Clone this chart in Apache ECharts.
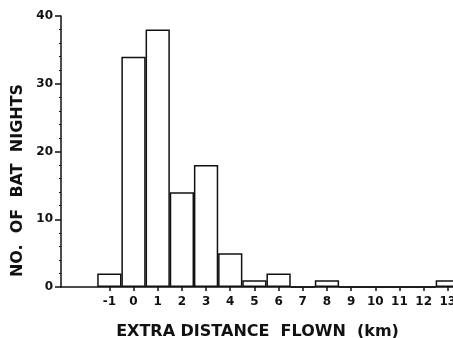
<!DOCTYPE html>
<html>
<head>
<meta charset="utf-8">
<script src="https://cdn.jsdelivr.net/npm/echarts@6/dist/echarts.min.js"></script>
<style>
html,body{margin:0;padding:0;background:#fff;}
#chart{width:453px;height:338px;}
</style>
</head>
<body>
<div id="chart"></div>
<script>
var myChart = echarts.init(document.getElementById("chart"));

// km categories, -3 and -2 are empty space left of the first bar, 14 is past the edge
var distance = ['-3', '-2', '-1', '0', '1', '2', '3', '4', '5', '6', '7', '8', '9', '10', '11', '12', '13', '14'];
var batNights = [null, null, 2, 34, 38, 14, 18, 5, 1, 2, 0, 1, 0, 0, 0, 0, 1, null];
var hidden = ['-3', '-2', '14'];

var ink = '#111';

option = {
    backgroundColor: '#fff',
    animation: false,
    grid: {
        left: 61,
        top: 16,
        width: 411,
        height: 271,
        containLabel: false,
        outerBoundsMode: 'none'
    },
    xAxis: {
        type: 'category',
        data: distance,
        boundaryGap: false,
        name: 'EXTRA DISTANCE  FLOWN  (km)',
        nameLocation: 'middle',
        nameGap: 37,
        nameTextStyle: {
            color: ink,
            fontFamily: 'DejaVu Sans',
            fontWeight: 'bold',
            fontSize: 16,
            padding: [0, 0, 0, -18]
        },
        axisLine: {lineStyle: {color: ink, width: 1.5}},
        axisTick: {
            length: 4,
            lineStyle: {color: ink, width: 1.5},
            interval: function (i, v) { return hidden.indexOf(v) < 0; }
        },
        axisLabel: {
            color: ink,
            fontFamily: 'DejaVu Sans',
            fontWeight: 'bold',
            fontSize: 12,
            margin: 9,
            interval: 0,
            formatter: function (v) { return hidden.indexOf(v) < 0 ? v : ''; }
        },
        splitLine: {show: false}
    },
    yAxis: {
        type: 'value',
        min: 0,
        max: 40,
        interval: 10,
        name: 'NO.  OF  BAT  NIGHTS',
        nameLocation: 'middle',
        nameGap: 34,
        nameTextStyle: {
            color: ink,
            fontFamily: 'DejaVu Sans',
            fontWeight: 'bold',
            fontSize: 16,
            padding: [0, 58, 0, 0]
        },
        axisLine: {show: true, lineStyle: {color: ink, width: 1.5}},
        axisTick: {show: true, length: 6, lineStyle: {color: ink, width: 1.5}},
        minorTick: {show: true, splitNumber: 5, length: 2, lineStyle: {color: ink}},
        axisLabel: {
            color: ink,
            fontFamily: 'DejaVu Sans',
            fontWeight: 'bold',
            fontSize: 12,
            margin: 8
        },
        splitLine: {show: false}
    },
    series: [{
        type: 'bar',
        data: batNights,
        barWidth: 24.3,
        itemStyle: {
            color: '#fff',
            borderColor: ink,
            borderWidth: 1.5
        }
    }]
};

myChart.setOption(option);
</script>
</body>
</html>
